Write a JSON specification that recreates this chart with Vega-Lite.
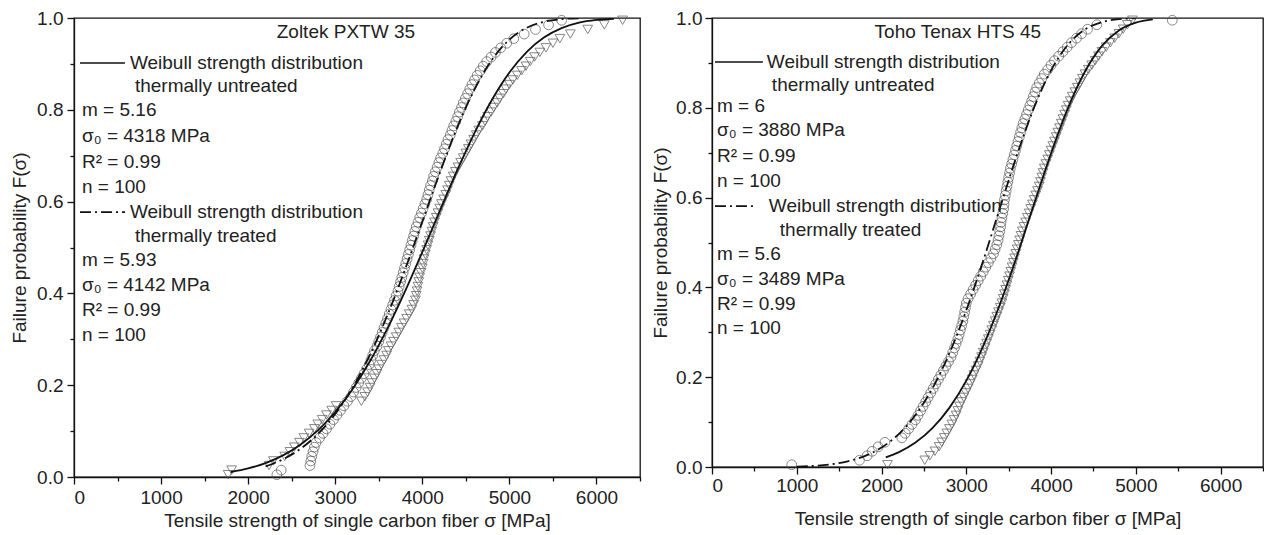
{
"$schema":"https://vega.github.io/schema/vega-lite/v6.json",
"background":"white",
"padding":{"left":9,"top":8,"right":0,"bottom":0},
"spacing":8,
"config":{
 "font":"Liberation Sans",
 "view":{"stroke":"#111","strokeWidth":1.3},
 "axis":{"grid":false,"domainColor":"#111","domainWidth":1.3,"tickColor":"#111","tickWidth":1.3,"labelColor":"#222","titleColor":"#222","labelFontSize":19,"titleFontSize":19,"titleFontWeight":"normal","labelFont":"Liberation Sans","titleFont":"Liberation Sans"}
},
"datasets":{
"LT":[{"x":1770,"F":0.005},{"x":1810,"F":0.015},{"x":2240,"F":0.025},{"x":2290,"F":0.035},{"x":2420,"F":0.045},{"x":2480,"F":0.055},{"x":2530,"F":0.065},{"x":2590,"F":0.075},{"x":2640,"F":0.085},{"x":2700,"F":0.095},
{"x":2760,"F":0.105},{"x":2800,"F":0.115},{"x":2850,"F":0.125},{"x":2900,"F":0.135},{"x":2960,"F":0.145},{"x":3010,"F":0.155},{"x":3300,"F":0.165},{"x":3340,"F":0.175},{"x":3370,"F":0.185},{"x":3400,"F":0.195},
{"x":3420,"F":0.205},{"x":3450,"F":0.215},{"x":3480,"F":0.225},{"x":3500,"F":0.235},{"x":3530,"F":0.245},{"x":3560,"F":0.255},{"x":3590,"F":0.265},{"x":3610,"F":0.275},{"x":3640,"F":0.285},{"x":3670,"F":0.295},
{"x":3700,"F":0.305},{"x":3730,"F":0.315},{"x":3760,"F":0.325},{"x":3790,"F":0.335},{"x":3820,"F":0.345},{"x":3850,"F":0.355},{"x":3880,"F":0.365},{"x":3900,"F":0.375},{"x":3920,"F":0.385},{"x":3930,"F":0.395},
{"x":3940,"F":0.405},{"x":3950,"F":0.415},{"x":3960,"F":0.425},{"x":3970,"F":0.435},{"x":3985,"F":0.445},{"x":4000,"F":0.455},{"x":4010,"F":0.465},{"x":4020,"F":0.475},{"x":4035,"F":0.485},{"x":4050,"F":0.495},
{"x":4065,"F":0.505},{"x":4080,"F":0.515},{"x":4095,"F":0.525},{"x":4110,"F":0.535},{"x":4125,"F":0.545},{"x":4140,"F":0.555},{"x":4160,"F":0.565},{"x":4180,"F":0.575},{"x":4200,"F":0.585},{"x":4220,"F":0.595},
{"x":4245,"F":0.605},{"x":4270,"F":0.615},{"x":4290,"F":0.625},{"x":4310,"F":0.635},{"x":4330,"F":0.645},{"x":4355,"F":0.655},{"x":4380,"F":0.665},{"x":4410,"F":0.675},{"x":4440,"F":0.685},{"x":4470,"F":0.695},
{"x":4500,"F":0.705},{"x":4530,"F":0.715},{"x":4560,"F":0.725},{"x":4590,"F":0.735},{"x":4620,"F":0.745},{"x":4650,"F":0.755},{"x":4690,"F":0.765},{"x":4720,"F":0.775},{"x":4750,"F":0.785},{"x":4790,"F":0.795},
{"x":4820,"F":0.805},{"x":4860,"F":0.815},{"x":4890,"F":0.825},{"x":4930,"F":0.835},{"x":4960,"F":0.845},{"x":5000,"F":0.855},{"x":5040,"F":0.865},{"x":5090,"F":0.875},{"x":5140,"F":0.885},{"x":5190,"F":0.895},
{"x":5240,"F":0.905},{"x":5290,"F":0.915},{"x":5350,"F":0.925},{"x":5420,"F":0.935},{"x":5500,"F":0.945},{"x":5580,"F":0.955},{"x":5700,"F":0.965},{"x":5900,"F":0.975},{"x":6090,"F":0.985},{"x":6300,"F":0.995}],
"LC":[{"x":2330,"F":0.005},{"x":2380,"F":0.015},{"x":2710,"F":0.025},{"x":2720,"F":0.035},{"x":2730,"F":0.045},{"x":2745,"F":0.055},{"x":2760,"F":0.065},{"x":2780,"F":0.075},{"x":2820,"F":0.085},{"x":2860,"F":0.095},
{"x":2900,"F":0.105},{"x":2940,"F":0.115},{"x":2980,"F":0.125},{"x":3020,"F":0.135},{"x":3060,"F":0.145},{"x":3100,"F":0.155},{"x":3140,"F":0.165},{"x":3180,"F":0.175},{"x":3210,"F":0.185},{"x":3240,"F":0.195},
{"x":3270,"F":0.205},{"x":3300,"F":0.215},{"x":3330,"F":0.225},{"x":3360,"F":0.235},{"x":3390,"F":0.245},{"x":3410,"F":0.255},{"x":3430,"F":0.265},{"x":3450,"F":0.275},{"x":3480,"F":0.285},{"x":3500,"F":0.295},
{"x":3520,"F":0.305},{"x":3540,"F":0.315},{"x":3560,"F":0.325},{"x":3580,"F":0.335},{"x":3600,"F":0.345},{"x":3620,"F":0.355},{"x":3640,"F":0.365},{"x":3660,"F":0.375},{"x":3680,"F":0.385},{"x":3700,"F":0.395},
{"x":3720,"F":0.405},{"x":3735,"F":0.415},{"x":3750,"F":0.425},{"x":3765,"F":0.435},{"x":3780,"F":0.445},{"x":3795,"F":0.455},{"x":3810,"F":0.465},{"x":3825,"F":0.475},{"x":3840,"F":0.485},{"x":3855,"F":0.495},
{"x":3870,"F":0.505},{"x":3885,"F":0.515},{"x":3900,"F":0.525},{"x":3915,"F":0.535},{"x":3930,"F":0.545},{"x":3950,"F":0.555},{"x":3970,"F":0.565},{"x":3990,"F":0.575},{"x":4010,"F":0.585},{"x":4030,"F":0.595},
{"x":4050,"F":0.605},{"x":4065,"F":0.615},{"x":4080,"F":0.625},{"x":4095,"F":0.635},{"x":4115,"F":0.645},{"x":4130,"F":0.655},{"x":4150,"F":0.665},{"x":4170,"F":0.675},{"x":4190,"F":0.685},{"x":4210,"F":0.695},
{"x":4235,"F":0.705},{"x":4255,"F":0.715},{"x":4275,"F":0.725},{"x":4295,"F":0.735},{"x":4320,"F":0.745},{"x":4340,"F":0.755},{"x":4360,"F":0.765},{"x":4385,"F":0.775},{"x":4405,"F":0.785},{"x":4425,"F":0.795},
{"x":4450,"F":0.805},{"x":4470,"F":0.815},{"x":4495,"F":0.825},{"x":4520,"F":0.835},{"x":4545,"F":0.845},{"x":4570,"F":0.855},{"x":4600,"F":0.865},{"x":4630,"F":0.875},{"x":4665,"F":0.885},{"x":4700,"F":0.895},
{"x":4740,"F":0.905},{"x":4790,"F":0.915},{"x":4840,"F":0.925},{"x":4900,"F":0.935},{"x":4970,"F":0.945},{"x":5050,"F":0.955},{"x":5170,"F":0.965},{"x":5300,"F":0.975},{"x":5450,"F":0.985},{"x":5600,"F":0.995}],
"RC":[{"x":940,"F":0.005},{"x":1740,"F":0.015},{"x":1830,"F":0.025},{"x":1890,"F":0.035},{"x":1960,"F":0.045},{"x":2040,"F":0.055},{"x":2240,"F":0.065},{"x":2280,"F":0.075},{"x":2320,"F":0.085},{"x":2360,"F":0.095},
{"x":2400,"F":0.105},{"x":2430,"F":0.115},{"x":2460,"F":0.125},{"x":2490,"F":0.135},{"x":2520,"F":0.145},{"x":2550,"F":0.155},{"x":2580,"F":0.165},{"x":2610,"F":0.175},{"x":2640,"F":0.185},{"x":2670,"F":0.195},
{"x":2700,"F":0.205},{"x":2730,"F":0.215},{"x":2760,"F":0.225},{"x":2790,"F":0.235},{"x":2820,"F":0.245},{"x":2840,"F":0.255},{"x":2860,"F":0.265},{"x":2880,"F":0.275},{"x":2900,"F":0.285},{"x":2915,"F":0.295},
{"x":2930,"F":0.305},{"x":2945,"F":0.315},{"x":2960,"F":0.325},{"x":2970,"F":0.335},{"x":2980,"F":0.345},{"x":2990,"F":0.355},{"x":3000,"F":0.365},{"x":3020,"F":0.375},{"x":3050,"F":0.385},{"x":3080,"F":0.395},
{"x":3110,"F":0.405},{"x":3140,"F":0.415},{"x":3170,"F":0.425},{"x":3200,"F":0.435},{"x":3230,"F":0.445},{"x":3260,"F":0.455},{"x":3290,"F":0.465},{"x":3320,"F":0.475},{"x":3340,"F":0.485},{"x":3360,"F":0.495},
{"x":3375,"F":0.505},{"x":3385,"F":0.515},{"x":3395,"F":0.525},{"x":3405,"F":0.535},{"x":3410,"F":0.545},{"x":3420,"F":0.555},{"x":3430,"F":0.565},{"x":3440,"F":0.575},{"x":3445,"F":0.585},{"x":3450,"F":0.595},
{"x":3460,"F":0.605},{"x":3470,"F":0.615},{"x":3480,"F":0.625},{"x":3490,"F":0.635},{"x":3500,"F":0.645},{"x":3510,"F":0.655},{"x":3520,"F":0.665},{"x":3535,"F":0.675},{"x":3550,"F":0.685},{"x":3565,"F":0.695},
{"x":3580,"F":0.705},{"x":3595,"F":0.715},{"x":3610,"F":0.725},{"x":3625,"F":0.735},{"x":3640,"F":0.745},{"x":3655,"F":0.755},{"x":3670,"F":0.765},{"x":3690,"F":0.775},{"x":3710,"F":0.785},{"x":3730,"F":0.795},
{"x":3750,"F":0.805},{"x":3770,"F":0.815},{"x":3790,"F":0.825},{"x":3810,"F":0.835},{"x":3830,"F":0.845},{"x":3860,"F":0.855},{"x":3890,"F":0.865},{"x":3920,"F":0.875},{"x":3960,"F":0.885},{"x":4000,"F":0.895},
{"x":4040,"F":0.905},{"x":4090,"F":0.915},{"x":4140,"F":0.925},{"x":4190,"F":0.935},{"x":4240,"F":0.945},{"x":4300,"F":0.955},{"x":4360,"F":0.965},{"x":4430,"F":0.975},{"x":4540,"F":0.985},{"x":5430,"F":0.995}],
"RT":[{"x":2070,"F":0.005},{"x":2510,"F":0.015},{"x":2570,"F":0.025},{"x":2630,"F":0.035},{"x":2680,"F":0.045},{"x":2710,"F":0.055},{"x":2740,"F":0.065},{"x":2770,"F":0.075},{"x":2800,"F":0.085},{"x":2830,"F":0.095},
{"x":2855,"F":0.105},{"x":2880,"F":0.115},{"x":2900,"F":0.125},{"x":2920,"F":0.135},{"x":2945,"F":0.145},{"x":2970,"F":0.155},{"x":2995,"F":0.165},{"x":3020,"F":0.175},{"x":3045,"F":0.185},{"x":3070,"F":0.195},
{"x":3090,"F":0.205},{"x":3115,"F":0.215},{"x":3140,"F":0.225},{"x":3160,"F":0.235},{"x":3180,"F":0.245},{"x":3200,"F":0.255},{"x":3220,"F":0.265},{"x":3240,"F":0.275},{"x":3260,"F":0.285},{"x":3280,"F":0.295},
{"x":3300,"F":0.305},{"x":3320,"F":0.315},{"x":3340,"F":0.325},{"x":3360,"F":0.335},{"x":3380,"F":0.345},{"x":3400,"F":0.355},{"x":3420,"F":0.365},{"x":3435,"F":0.375},{"x":3450,"F":0.385},{"x":3465,"F":0.395},
{"x":3480,"F":0.405},{"x":3495,"F":0.415},{"x":3510,"F":0.425},{"x":3525,"F":0.435},{"x":3540,"F":0.445},{"x":3555,"F":0.455},{"x":3570,"F":0.465},{"x":3585,"F":0.475},{"x":3600,"F":0.485},{"x":3615,"F":0.495},
{"x":3630,"F":0.505},{"x":3645,"F":0.515},{"x":3660,"F":0.525},{"x":3680,"F":0.535},{"x":3700,"F":0.545},{"x":3720,"F":0.555},{"x":3740,"F":0.565},{"x":3760,"F":0.575},{"x":3780,"F":0.585},{"x":3800,"F":0.595},
{"x":3820,"F":0.605},{"x":3840,"F":0.615},{"x":3860,"F":0.625},{"x":3875,"F":0.635},{"x":3890,"F":0.645},{"x":3905,"F":0.655},{"x":3920,"F":0.665},{"x":3940,"F":0.675},{"x":3960,"F":0.685},{"x":3980,"F":0.695},
{"x":4000,"F":0.705},{"x":4020,"F":0.715},{"x":4040,"F":0.725},{"x":4060,"F":0.735},{"x":4080,"F":0.745},{"x":4100,"F":0.755},{"x":4120,"F":0.765},{"x":4140,"F":0.775},{"x":4160,"F":0.785},{"x":4180,"F":0.795},
{"x":4200,"F":0.805},{"x":4225,"F":0.815},{"x":4250,"F":0.825},{"x":4280,"F":0.835},{"x":4310,"F":0.845},{"x":4340,"F":0.855},{"x":4370,"F":0.865},{"x":4400,"F":0.875},{"x":4440,"F":0.885},{"x":4480,"F":0.895},
{"x":4520,"F":0.905},{"x":4560,"F":0.915},{"x":4600,"F":0.925},{"x":4650,"F":0.935},{"x":4700,"F":0.945},{"x":4750,"F":0.955},{"x":4800,"F":0.965},{"x":4850,"F":0.975},{"x":4900,"F":0.985},{"x":4960,"F":0.995}],
"LS":[{"x":1800,"F":0.0109},{"x":2000,"F":0.0187},{"x":2200,"F":0.0303},{"x":2400,"F":0.0471},{"x":2600,"F":0.0704},{"x":2800,"F":0.1015},{"x":3000,"F":0.1416},{"x":3200,"F":0.1918},{"x":3400,"F":0.2526},{"x":3600,"F":0.3238},{"x":3800,"F":0.4038},{"x":4000,"F":0.4901},{"x":4200,"F":0.5795},{"x":4400,"F":0.6678},{"x":4600,"F":0.7498},{"x":4800,"F":0.822},{"x":5000,"F":0.8813},{"x":5200,"F":0.9264},{"x":5400,"F":0.958},{"x":5600,"F":0.9781},{"x":5800,"F":0.9898},{"x":6000,"F":0.9957},{"x":6200,"F":0.9984}],
"LD":[{"x":2200,"F":0.0232},{"x":2400,"F":0.0386},{"x":2600,"F":0.0613},{"x":2800,"F":0.0935},{"x":3000,"F":0.1373},{"x":3200,"F":0.1947},{"x":3400,"F":0.2667},{"x":3600,"F":0.353},{"x":3800,"F":0.4513},{"x":4000,"F":0.5565},{"x":4200,"F":0.6624},{"x":4400,"F":0.7611},{"x":4600,"F":0.8448},{"x":4800,"F":0.9091},{"x":5000,"F":0.9529},{"x":5200,"F":0.9788},{"x":5400,"F":0.992},{"x":5600,"F":0.9975},{"x":5800,"F":0.9994}],
"RS":[{"x":2050,"F":0.0215},{"x":2200,"F":0.0327},{"x":2400,"F":0.0545},{"x":2600,"F":0.0866},{"x":2800,"F":0.1317},{"x":3000,"F":0.1924},{"x":3200,"F":0.27},{"x":3400,"F":0.3641},{"x":3600,"F":0.4717},{"x":3800,"F":0.5863},{"x":4000,"F":0.6988},{"x":4200,"F":0.7998},{"x":4400,"F":0.8808},{"x":4600,"F":0.9378},{"x":4800,"F":0.9723},{"x":5000,"F":0.9897},{"x":5200,"F":0.997}],
"RD":[{"x":1000,"F":0.0009},{"x":1200,"F":0.0025},{"x":1400,"F":0.006},{"x":1600,"F":0.0126},{"x":1800,"F":0.0243},{"x":2000,"F":0.0434},{"x":2200,"F":0.0728},{"x":2400,"F":0.1157},{"x":2600,"F":0.1752},{"x":2800,"F":0.253},{"x":3000,"F":0.349},{"x":3200,"F":0.46},{"x":3400,"F":0.5789},{"x":3600,"F":0.6963},{"x":3800,"F":0.8008},{"x":4000,"F":0.8834},{"x":4200,"F":0.9407},{"x":4400,"F":0.9744},{"x":4600,"F":0.9909},{"x":4800,"F":0.9974},{"x":5000,"F":0.9994}],
"LLeg":[{"kind":"untreated","x0":69,"x1":585,"F":0.902},{"kind":"treated","x0":69,"x1":585,"F":0.577}],
"RLeg":[{"kind":"untreated","x0":35,"x1":600,"F":0.902},{"kind":"treated","x0":35,"x1":530,"F":0.581}],
"LTxt":[{"x":2328,"F":0.9695,"t":"Zoltek PXTW 35"},{"x":642,"F":0.902,"t":"Weibull strength distribution"},{"x":700,"F":0.852,"t":"thermally untreated"},{"x":92,"F":0.8,"t":"m = 5.16"},{"x":92,"F":0.743,"t":"σ₀ = 4318 MPa"},{"x":92,"F":0.686,"t":"R² = 0.99"},{"x":92,"F":0.632,"t":"n = 100"},{"x":642,"F":0.577,"t":"Weibull strength distribution"},{"x":700,"F":0.525,"t":"thermally treated"},{"x":92,"F":0.473,"t":"m = 5.93"},{"x":92,"F":0.418,"t":"σ₀ = 4142 MPa"},{"x":92,"F":0.364,"t":"R² = 0.99"},{"x":92,"F":0.309,"t":"n = 100"}],
"RTxt":[{"x":1918,"F":0.969,"t":"Toho Tenax HTS 45"},{"x":647,"F":0.902,"t":"Weibull strength distribution"},{"x":706,"F":0.851,"t":"thermally untreated"},{"x":59,"F":0.804,"t":"m = 6"},{"x":59,"F":0.751,"t":"σ₀ = 3880 MPa"},{"x":59,"F":0.693,"t":"R² = 0.99"},{"x":59,"F":0.637,"t":"n = 100"},{"x":670,"F":0.581,"t":"Weibull strength distribution"},{"x":800,"F":0.528,"t":"thermally treated"},{"x":59,"F":0.474,"t":"m = 5.6"},{"x":59,"F":0.419,"t":"σ₀ = 3489 MPa"},{"x":59,"F":0.363,"t":"R² = 0.99"},{"x":59,"F":0.31,"t":"n = 100"}]
},
"hconcat":[
{
 "width":566,"height":459,
 "layer":[
  {"data":{"name":"LT"},"mark":{"type":"point","shape":"triangle-down","filled":false,"stroke":"#555","strokeWidth":1,"size":95},
   "encoding":{
    "x":{"field":"x","type":"quantitative","scale":{"domain":[0,6500],"nice":false,"zero":false},
     "axis":{"title":"Tensile strength of single carbon fiber σ [MPa]","values":[0,500,1000,1500,2000,2500,3000,3500,4000,4500,5000,5500,6000,6500],"format":"d","labelExpr":"datum.value % 1000 === 0 ? datum.label : ''","tickSize":{"condition":{"test":"datum.value % 1000 === 0","value":7},"value":4},"labelPadding":4,"titlePadding":4}},
    "y":{"field":"F","type":"quantitative","scale":{"domain":[0,1],"nice":false,"zero":false},
     "axis":{"title":"Failure probability F(σ)","values":[0,0.1,0.2,0.3,0.4,0.5,0.6,0.7,0.8,0.9,1],"labelExpr":"round(datum.value*10) % 2 === 0 ? format(datum.value, '.1f') : ''","tickSize":{"condition":{"test":"round(datum.value*10) % 2 === 0","value":7},"value":4},"labelPadding":4,"titlePadding":7}}
   }},
  {"data":{"name":"LC"},"mark":{"type":"point","shape":"circle","filled":false,"stroke":"#555","strokeWidth":1,"size":95},
   "encoding":{"x":{"field":"x","type":"quantitative"},"y":{"field":"F","type":"quantitative"}}},
  {"data":{"name":"LS"},"mark":{"type":"line","color":"#111","strokeWidth":1.8,"interpolate":"monotone","clip":true},
   "encoding":{"x":{"field":"x","type":"quantitative"},"y":{"field":"F","type":"quantitative"}}},
  {"data":{"name":"LD"},"mark":{"type":"line","color":"#111","strokeWidth":1.8,"interpolate":"monotone","strokeDash":[11,4,2,4],"clip":true},
   "encoding":{"x":{"field":"x","type":"quantitative"},"y":{"field":"F","type":"quantitative"}}},
  {"data":{"name":"LLeg"},"transform":[{"filter":"datum.kind === 'untreated'"}],"mark":{"type":"rule","color":"#111","strokeWidth":1.6},
   "encoding":{"x":{"field":"x0","type":"quantitative"},"x2":{"field":"x1"},"y":{"field":"F","type":"quantitative"}}},
  {"data":{"name":"LLeg"},"transform":[{"filter":"datum.kind === 'treated'"}],"mark":{"type":"rule","color":"#111","strokeWidth":1.6,"strokeDash":[11,4,2,4]},
   "encoding":{"x":{"field":"x0","type":"quantitative"},"x2":{"field":"x1"},"y":{"field":"F","type":"quantitative"}}},
  {"data":{"name":"LTxt"},"mark":{"type":"text","align":"left","baseline":"middle","fontSize":19,"color":"#222","font":"Liberation Sans"},
   "encoding":{"x":{"field":"x","type":"quantitative"},"y":{"field":"F","type":"quantitative"},"text":{"field":"t"}}}
 ]
},
{
 "width":551,"height":449,
 "layer":[
  {"data":{"name":"RT"},"mark":{"type":"point","shape":"triangle-down","filled":false,"stroke":"#555","strokeWidth":1,"size":95},
   "encoding":{
    "x":{"field":"x","type":"quantitative","scale":{"domain":[0,6500],"nice":false,"zero":false},
     "axis":{"title":"Tensile strength of single carbon fiber σ [MPa]","values":[0,500,1000,1500,2000,2500,3000,3500,4000,4500,5000,5500,6000,6500],"format":"d","labelExpr":"datum.value % 1000 === 0 ? datum.label : ''","tickSize":{"condition":{"test":"datum.value % 1000 === 0","value":7},"value":4},"labelPadding":2,"titlePadding":14}},
    "y":{"field":"F","type":"quantitative","scale":{"domain":[0,1],"nice":false,"zero":false},
     "axis":{"title":"Failure probability F(σ)","values":[0,0.1,0.2,0.3,0.4,0.5,0.6,0.7,0.8,0.9,1],"labelExpr":"round(datum.value*10) % 2 === 0 ? format(datum.value, '.1f') : ''","tickSize":{"condition":{"test":"round(datum.value*10) % 2 === 0","value":7},"value":4},"labelPadding":3,"titlePadding":5}}
   }},
  {"data":{"name":"RC"},"mark":{"type":"point","shape":"circle","filled":false,"stroke":"#555","strokeWidth":1,"size":95},
   "encoding":{"x":{"field":"x","type":"quantitative"},"y":{"field":"F","type":"quantitative"}}},
  {"data":{"name":"RS"},"mark":{"type":"line","color":"#111","strokeWidth":1.8,"interpolate":"monotone","clip":true},
   "encoding":{"x":{"field":"x","type":"quantitative"},"y":{"field":"F","type":"quantitative"}}},
  {"data":{"name":"RD"},"mark":{"type":"line","color":"#111","strokeWidth":1.8,"interpolate":"monotone","strokeDash":[11,4,2,4],"clip":true},
   "encoding":{"x":{"field":"x","type":"quantitative"},"y":{"field":"F","type":"quantitative"}}},
  {"data":{"name":"RLeg"},"transform":[{"filter":"datum.kind === 'untreated'"}],"mark":{"type":"rule","color":"#111","strokeWidth":1.6},
   "encoding":{"x":{"field":"x0","type":"quantitative"},"x2":{"field":"x1"},"y":{"field":"F","type":"quantitative"}}},
  {"data":{"name":"RLeg"},"transform":[{"filter":"datum.kind === 'treated'"}],"mark":{"type":"rule","color":"#111","strokeWidth":1.6,"strokeDash":[11,4,2,4]},
   "encoding":{"x":{"field":"x0","type":"quantitative"},"x2":{"field":"x1"},"y":{"field":"F","type":"quantitative"}}},
  {"data":{"name":"RTxt"},"mark":{"type":"text","align":"left","baseline":"middle","fontSize":19,"color":"#222","font":"Liberation Sans"},
   "encoding":{"x":{"field":"x","type":"quantitative"},"y":{"field":"F","type":"quantitative"},"text":{"field":"t"}}}
 ]
}
]
}
